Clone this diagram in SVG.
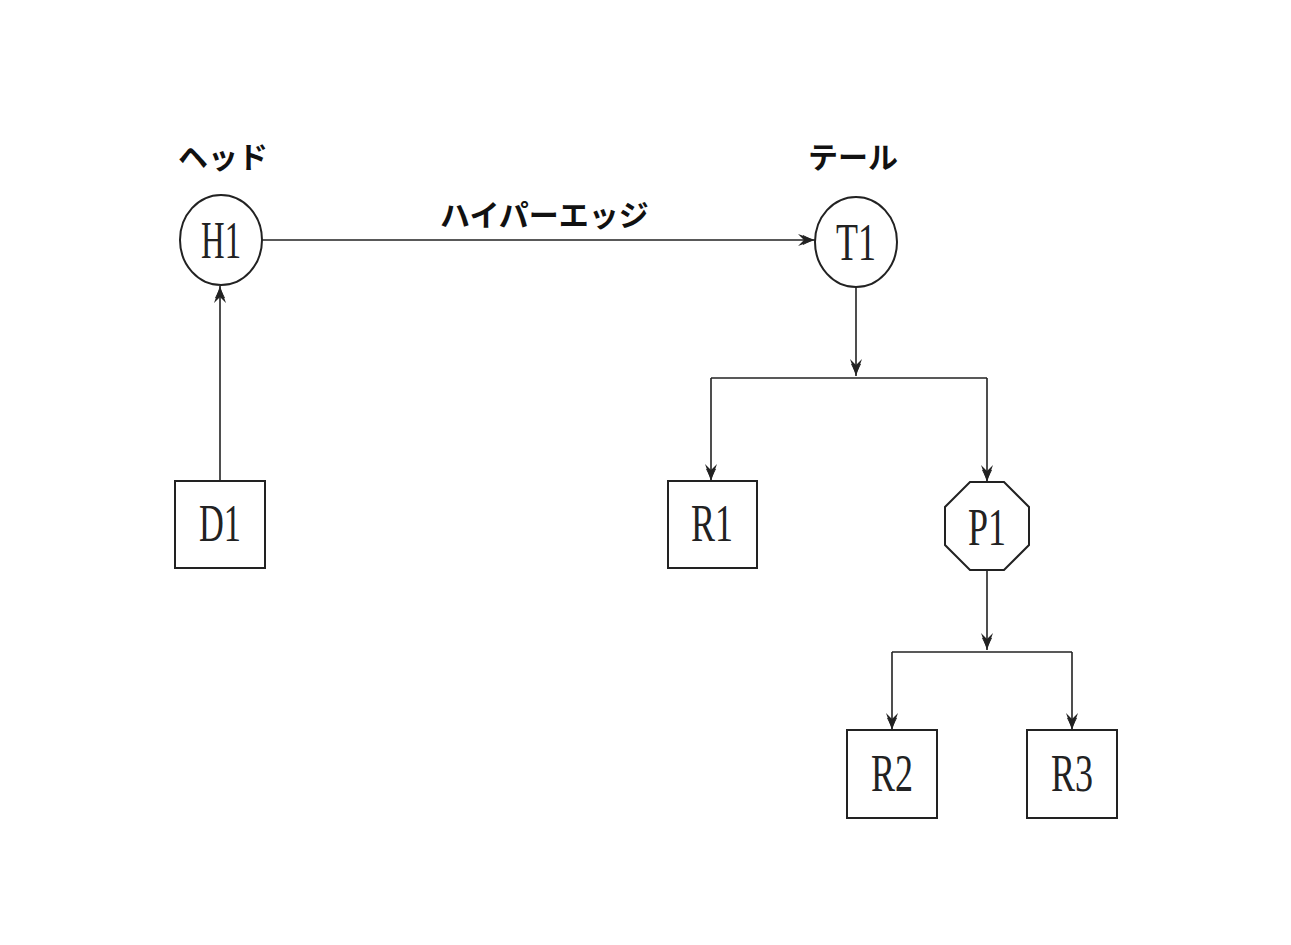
<svg xmlns="http://www.w3.org/2000/svg" width="1291" height="945" viewBox="0 0 1291 945">
<style>
.n{fill:#fff;stroke:#222;stroke-width:2}
.t{font-family:"Liberation Serif","DejaVu Serif",serif;font-size:52px;fill:#222;text-anchor:middle}
.j{font-family:"Noto Sans CJK JP","Noto Sans",sans-serif;font-size:30px;font-weight:bold;fill:#111}
.c{fill:none;stroke:#222;stroke-width:1.6}
</style>
<defs>
<marker id="a" viewBox="0 0 18 14" refX="17" refY="7" markerWidth="18" markerHeight="14" markerUnits="userSpaceOnUse" orient="auto">
<path d="M0,1 L17,7 L0,13 L6,7 Z" fill="#222"/>
<path d="M5,2.5 L14,7 L5,11.5" fill="none" stroke="#222" stroke-width="1"/>
</marker>
</defs>
<rect width="1291" height="945" fill="#fff"/>
<g id="connectors">
<path class="c" d="M262,240 L815,240" marker-end="url(#a)"/>
<path class="c" d="M220,481 L220,286" marker-end="url(#a)"/>
<path class="c" d="M856,287 L856,376" marker-end="url(#a)"/>
<path class="c" d="M711,378 L987,378"/>
<path class="c" d="M711,378 L711,481" marker-end="url(#a)"/>
<path class="c" d="M987,378 L987,482" marker-end="url(#a)"/>
<path class="c" d="M987,570 L987,650" marker-end="url(#a)"/>
<path class="c" d="M892,652 L1072,652"/>
<path class="c" d="M892,652 L892,730" marker-end="url(#a)"/>
<path class="c" d="M1072,652 L1072,730" marker-end="url(#a)"/>
</g>
<g id="labels">
<text class="j" x="178" y="168">ヘッド</text>
<text class="j" x="808" y="168">テール</text>
<text class="j" x="440" y="226">ハイパーエッジ</text>
</g>
<g id="H1"><ellipse class="n" cx="221" cy="240" rx="41" ry="45"/><text class="t" x="221" y="258" textLength="40" lengthAdjust="spacingAndGlyphs">H1</text></g>
<g id="T1"><ellipse class="n" cx="856" cy="242" rx="41" ry="45"/><text class="t" x="856" y="260" textLength="40" lengthAdjust="spacingAndGlyphs">T1</text></g>
<g id="D1"><rect class="n" x="175" y="481" width="90" height="87"/><text class="t" x="220" y="541" textLength="42" lengthAdjust="spacingAndGlyphs">D1</text></g>
<g id="R1"><rect class="n" x="668" y="481" width="89" height="87"/><text class="t" x="712" y="541" textLength="42" lengthAdjust="spacingAndGlyphs">R1</text></g>
<g id="P1"><polygon class="n" points="970,482 1004,482 1029,507 1029,545 1004,570 970,570 945,545 945,507"/><text class="t" x="987" y="545" textLength="38" lengthAdjust="spacingAndGlyphs">P1</text></g>
<g id="R2"><rect class="n" x="847" y="730" width="90" height="88"/><text class="t" x="892" y="791" textLength="42" lengthAdjust="spacingAndGlyphs">R2</text></g>
<g id="R3"><rect class="n" x="1027" y="730" width="90" height="88"/><text class="t" x="1072" y="791" textLength="42" lengthAdjust="spacingAndGlyphs">R3</text></g>
</svg>
